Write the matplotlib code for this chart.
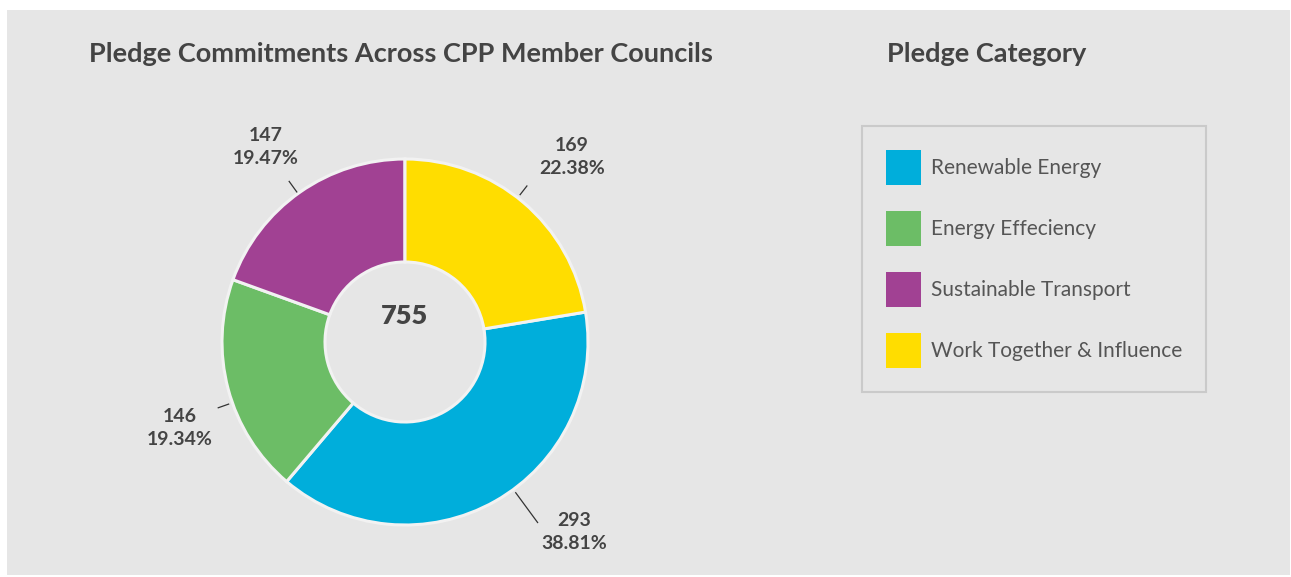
import matplotlib
matplotlib.use("Agg")
import matplotlib.pyplot as plt
from matplotlib.patches import Rectangle
import numpy as np

# ---- data ----
categories = ["Renewable Energy", "Energy Effeciency", "Sustainable Transport", "Work Together & Influence"]
pledges = [293, 146, 147, 169]
colors = ["#00AEDB", "#6CBD66", "#A14193", "#FFDD00"]
title_left = "Pledge Commitments Across CPP Member Councils"
title_right = "Pledge Category"

# ---- layout (pixel units, origin top-left) ----
W, H = 1291, 577
BG = "#E6E6E6"
TXT = "#444444"
CX, CY = 405, 342
R_OUT, R_IN = 183, 80
# per-slice label layout: (leader angle deg, leader r0, leader r1, text x, text y)
label_layout = [
    (-53.7, 187, 224, 574, 532),   # Renewable Energy
    (-160.6, 187, 198, 180, 428),  # Energy Effeciency
    (125.8, 185, 198, 266, 147),   # Sustainable Transport
    (52.0, 187, 198, 572, 157),    # Work Together & Influence
]

plt.rcParams["font.family"] = ["Lato", "DejaVu Sans"]

fig = plt.figure(figsize=(W / 100, H / 100), dpi=100, facecolor="white")
fig.patches.append(Rectangle((7 / W, 1 - 575 / H), (1290 - 7) / W, (575 - 10) / H,
                             transform=fig.transFigure, facecolor=BG, edgecolor="none",
                             zorder=-10))

ax = fig.add_axes([0, 0, 1, 1])
ax.patch.set_visible(False)
ax.set_zorder(1)


def Y(y):
    return H - y


total = sum(pledges)
start = 90 - 360 * pledges[3] / total
wedges, _ = ax.pie(pledges, colors=colors, radius=R_OUT, center=(CX, Y(CY)),
                   startangle=start, counterclock=False,
                   wedgeprops=dict(width=R_OUT - R_IN, edgecolor="#F2F2F2", linewidth=2.2))
ax.set_xlim(0, W)
ax.set_ylim(0, H)
ax.set_aspect("auto")
ax.axis("off")

# centre total
ax.text(CX, Y(316), f"{total}", ha="center", va="center", fontsize=19.5,
        fontweight="heavy", color=TXT)

# slice labels with short leader lines
for val, (ang, r0, r1, tx, ty) in zip(pledges, label_layout):
    a = np.deg2rad(ang)
    ax.plot([CX + r0 * np.cos(a), CX + r1 * np.cos(a)],
            [Y(CY) + r0 * np.sin(a), Y(CY) + r1 * np.sin(a)],
            color="#333333", lw=0.9)
    ax.text(tx, Y(ty), f"{val}\n{100 * val / total:.2f}%", ha="center", va="center",
            fontsize=14, fontweight="bold", color=TXT, linespacing=1.45)

# titles
fig.text(89 / W, Y(54) / H, title_left, ha="left", va="center", fontsize=19.5,
         fontweight="bold", color=TXT)
fig.text(887 / W, Y(54) / H, title_right, ha="left", va="center", fontsize=19.5,
         fontweight="bold", color=TXT)

# legend
fs = 15
px = fs * 100 / 72
sw_pt = 35 * 72 / 100          # swatch size in points
hh = (sw_pt - 0.245 * fs) / (0.65 * fs)
leg = fig.legend(wedges, categories, loc="upper left",
                 bbox_to_anchor=(862 / W, Y(126) / H), bbox_transform=fig.transFigure,
                 borderaxespad=0, prop=dict(size=fs, weight="normal"), frameon=True,
                 fancybox=False, handlelength=35 / px, handleheight=hh,
                 handletextpad=10 / px, labelspacing=26 / px, borderpad=24 / px,
                 labelcolor="#555555")
frame = leg.get_frame()
frame.set_facecolor("none")
frame.set_edgecolor("#C4C4C4")
frame.set_linewidth(1.5)
for h in leg.legend_handles:
    h.set_edgecolor("none")

fig.savefig("out.png", dpi=100, facecolor="white")
